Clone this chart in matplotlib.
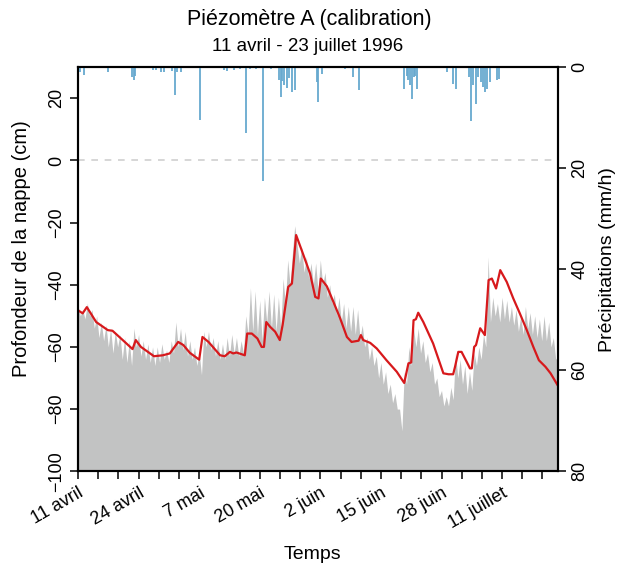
import numpy as np
import matplotlib.pyplot as plt

plt.rcParams['font.family'] = ['Liberation Sans', 'DejaVu Sans']

# niveau observe (cm), une valeur toutes les 12 h a partir du 11 avril
observed = [
    -47, -50, -48, -51, -46, -50, -48, -54, -50, -57,
    -52, -58, -53, -60, -54, -62, -55, -60, -56, -64,
    -57, -65, -58, -66, -54, -60, -56, -63, -58, -64,
    -59, -65, -60, -66, -60, -65, -59, -64, -61, -65,
    -58, -62, -52, -60, -54, -61, -55, -63, -58, -64,
    -60, -66, -62, -69, -55, -60, -55, -61, -57, -63,
    -58, -64, -59, -64, -57, -63, -56, -62, -57, -63,
    -58, -62, -50, -56, -41, -55, -42, -56, -45, -58,
    -44, -52, -42, -54, -43, -55, -44, -54, -38, -46,
    -32, -40, -30, -21, -27, -33, -28, -36, -31, -38,
    -33, -40, -33, -42, -32, -40, -36, -44, -40, -46,
    -43, -50, -44, -52, -46, -54, -47, -55, -47, -56,
    -48, -57, -53, -60, -57, -64, -60, -66, -63, -70,
    -65, -72, -68, -75, -72, -78, -75, -80, -80, -87,
    -68, -72, -60, -66, -54, -60, -54, -62, -58, -65,
    -62, -68, -65, -72, -70, -76, -74, -79, -76, -79,
    -73, -77, -62, -70, -64, -72, -66, -75, -68, -74,
    -62, -66, -60, -64, -56, -60, -31, -52, -44, -50,
    -46, -52, -44, -51, -45, -52, -47, -53, -48, -55,
    -50, -56, -47, -54, -49, -56, -50, -57, -51, -58,
    -50, -58, -52, -60, -57, -64, -63,
]

# niveau simule (cm)
sim_days = [0, 1.0, 1.9, 3.9, 6.4, 7.4, 9.6, 11.7, 12.4, 13.5,
            15.0, 16.3, 18.2, 19.7, 21.5, 22.6, 24.0, 26.0, 26.7, 28.0,
            30.5, 31.5, 32.6, 33.3, 34.0, 35.8, 36.3, 37.3, 38.5, 39.4,
            39.9, 40.4, 41.2, 42.3, 43.3, 43.9, 45.1, 45.9, 46.8, 48.0,
            49.8, 50.9, 51.6, 52.1, 53.4, 54.8, 56.2, 57.7, 58.7, 60.2,
            60.7, 61.2, 62.7, 64.1, 66.2, 68.4, 70.0, 70.9, 71.5, 72.0,
            72.5, 73.0, 74.1, 76.2, 78.4, 79.5, 80.5, 80.9, 81.6, 82.3,
            83.4, 84.1, 84.5, 85.0, 85.4, 86.3, 87.3, 88.1, 88.8, 89.7,
            90.6, 92.0, 93.4, 94.8, 96.3, 97.7, 98.9, 100.3, 101.4, 102.9,
            103]
sim_level = [-48.2, -49.2, -47.2, -52, -54.6, -54.8, -57.8, -60.7, -57.8, -60,
             -61.6, -63, -62.7, -62.1, -58.4, -59.4, -61.9, -64.1, -56.8, -58.4,
             -62.7, -63, -61.6, -62.1, -61.8, -62.7, -55.7, -55.7, -57.3, -60,
             -60, -52, -53.5, -55.1, -57.8, -53, -40.7, -39.6, -24, -28.9,
             -36.4, -43.9, -44.4, -38, -40.5, -45.5, -50.6, -56.8, -58.4, -58,
             -56.2, -57.8, -58.7, -60.5, -64.3, -68, -71.6, -65.3, -65, -51.4,
             -51.1, -49, -52, -58.9, -68.5, -68.8, -68.8, -66.4, -61.6, -61.6,
             -64.8, -66.9, -66.9, -60, -59.4, -54, -56.2, -38.5, -38, -41.2,
             -35.3, -39.1, -44.4, -49.2, -54.6, -60, -64.3, -66.4, -68.5, -72.3,
             -72.5]

# precipitations (mm/h)
rain_days = [0.4, 1.35, 6.4, 11.6, 12.0, 12.3, 16.1, 16.7, 17.8, 18.5,
             20.2, 20.9, 21.2, 22.1, 26.1, 31.3, 32.0, 33.5, 34.8, 36.1,
             36.9, 38.2, 39.8, 41.4, 43.1, 43.5, 43.8, 44.2, 44.8, 45.3,
             46.0, 46.6, 51.3, 51.6, 52.3, 57.3, 59.1, 60.2, 70.0, 70.5,
             70.9, 71.2, 71.6, 72.0, 72.3, 72.7, 79.2, 80.5, 81.1, 84.0,
             84.3, 84.8, 85.3, 85.9, 86.5, 86.9, 87.3, 87.7, 88.4, 90.0,
             90.3]
rain = [1.0, 1.6, 0.9, 2.0, 2.6, 1.8, 0.5, 0.6, 1.0, 1.0,
        0.8, 5.5, 1.0, 0.9, 10.5, 0.6, 0.8, 0.6, 0.3, 13.1,
        0.4, 0.3, 22.5, 0.3, 2.5, 5.9, 2.8, 3.6, 4.2, 2.2,
        4.9, 4.6, 3.0, 6.9, 1.3, 0.3, 2.0, 4.6, 4.3, 1.7,
        2.5, 3.6, 6.3, 2.0, 1.7, 4.3, 1.0, 3.3, 4.3, 2.0,
        10.6, 3.6, 7.3, 2.0, 3.0, 4.0, 5.0, 4.3, 3.0, 2.6,
        2.3]

date_ticks = [0, 13, 26, 39, 52, 65, 78, 91]
date_labels = ['11 avril', '24 avril', '7 mai', '20 mai', '2 juin',
               '15 juin', '28 juin', '11 juillet']


def main():
    fig = plt.figure(figsize=(6.19, 5.65), dpi=100)
    ax = fig.add_axes([0.126, 0.166, 0.7755, 0.715])

    obs_days = np.arange(len(observed)) * 0.5
    ax.fill_between(obs_days, observed, -100, color='#c2c3c3', lw=0)
    ax.axhline(0, color='#d0d0d0', ls=(0, (4, 4)), lw=1.2)
    ax.plot(sim_days, sim_level, color='#d7191c', lw=1.6)

    ax.set_xlim(0, 103)
    ax.set_ylim(-100, 30)
    ax.set_yticks([-100, -80, -60, -40, -20, 0, 20])
    ax.set_xticks(date_ticks)
    ax.set_xticklabels(date_labels, rotation=30, ha='right',
                       rotation_mode='anchor')
    ax.set_xticks(np.arange(0, 103, 13 / 3.0), minor=True)
    ax.tick_params(axis='both', which='both', direction='out', length=6,
                   width=1.1, labelsize=13)
    plt.setp(ax.get_yticklabels(), rotation=90, va='center')

    # pluie en barres inversees sur l'axe de droite
    ax2 = ax.twinx()
    ax2.vlines(rain_days, 0, rain, color='#67a9cf', lw=1.3)
    ax2.set_ylim(80, 0)
    ax2.set_yticks([0, 20, 40, 60, 80])
    ax2.tick_params(direction='out', length=6, width=1.1, labelsize=13)
    plt.setp(ax2.get_yticklabels(), rotation=90, va='center')

    for a in (ax, ax2):
        for s in a.spines.values():
            s.set_linewidth(1.5)

    fig.text(0.5, 0.965, u'Piézomètre A (calibration)', ha='center',
             va='center', fontsize=15.5)
    fig.text(0.497, 0.918, '11 avril - 23 juillet 1996', ha='center',
             va='center', fontsize=13.5)
    fig.text(0.505, 0.018, 'Temps', ha='center', va='center', fontsize=14)
    fig.text(0.035, 0.56, 'Profondeur de la nappe (cm)', rotation=90,
             ha='center', va='center', fontsize=14.5)
    fig.text(0.982, 0.54, u'Précipitations (mm/h)', rotation=90,
             ha='center', va='center', fontsize=14)

    fig.savefig('out.png', dpi=100)


main()
